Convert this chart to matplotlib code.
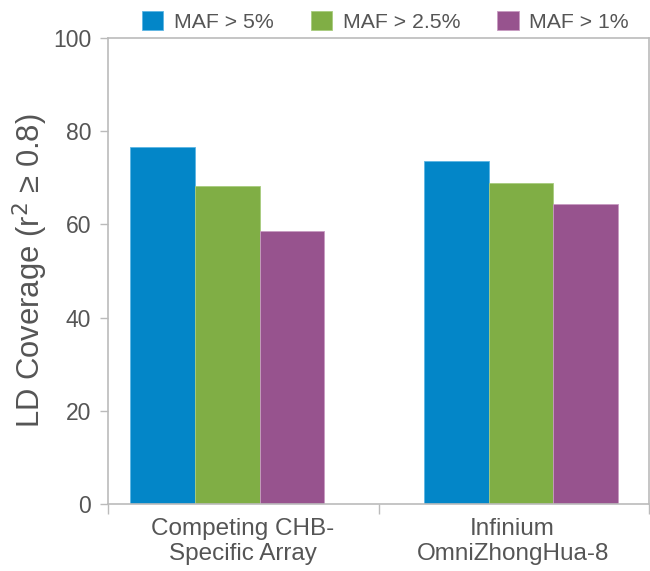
import numpy as np
import matplotlib.pyplot as plt
from matplotlib.patches import Patch

# datos
categorias = ["Competing CHB-\nSpecific Array", "Infinium\nOmniZhongHua-8"]
series = ["MAF > 5%", "MAF > 2.5%", "MAF > 1%"]
maf5 = [76.6, 73.7]
maf25 = [68.2, 68.9]
maf1 = [58.6, 64.4]
yticks = [0, 20, 40, 60, 80, 100]

colores = ["#0386C8", "#80AE45", "#97538E"]
bordes = ["#5DB6E4", "#A8CC7E", "#C89BC2"]

plt.rcParams['font.family'] = ['Liberation Sans', 'DejaVu Sans']
gris = "#555555"
eje = "#BBBBBB"

fig = plt.figure(figsize=(6.5, 5.71), dpi=100)
ax = fig.add_axes([0.166, 0.1173, 0.832, 0.8162])

x = np.arange(len(categorias))
w = 0.22
for i, vals in enumerate([maf5, maf25, maf1]):
    ax.bar(x + (i - 1) * w, vals, w, color=colores[i], edgecolor=bordes[i],
           linewidth=0.6, zorder=2)

ax.set_xlim(-0.406, 1.434)
ax.set_ylim(0, 100)
ax.set_yticks(yticks)
ax.tick_params(axis='y', length=6, width=1, color=eje, labelsize=16.5,
               labelcolor=gris, pad=6)

# etiquetas centradas en cada categoria, marcas en los limites
ax.set_xticks([0.053, 0.971])
ax.set_xticklabels(categorias, fontsize=17.5, color=gris, linespacing=1.2)
ax.tick_params(axis='x', which='major', length=0, pad=10)
ax.set_xticks([-0.406, 0.515, 1.434], minor=True)
ax.tick_params(axis='x', which='minor', length=7, width=1, color=eje)

for s in ax.spines.values():
    s.set_color(eje)
    s.set_linewidth(1.2)

ax.set_ylabel("LD Coverage (r$^2$ \u2265 0.8)", fontsize=22.3, color=gris, labelpad=2)

handles = [Patch(facecolor=colores[i], edgecolor=bordes[i], linewidth=0.6) for i in range(3)]
fig.legend(handles, series, loc='center', bbox_to_anchor=(0.593, 0.962), ncol=3,
           frameon=False, fontsize=15.3, handlelength=1.0, handleheight=1.0,
           handletextpad=0.5, columnspacing=1.75, labelcolor="#555555")

fig.savefig("out.png", dpi=100)
